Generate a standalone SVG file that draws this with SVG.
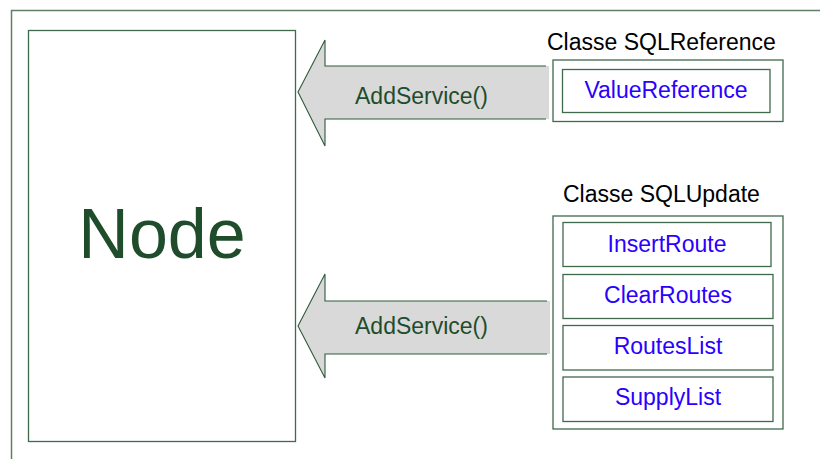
<svg xmlns="http://www.w3.org/2000/svg" width="820" height="459" viewBox="0 0 820 459">
<style>
.frame{fill:none;stroke:#5f7f69;stroke-width:1.5}
.box{fill:#fff;stroke:#3f6a4c;stroke-width:1.3}
.arrowfill{fill:#d9d9d9;stroke:none}
.arrowline{fill:none;stroke:#2f5a3c;stroke-width:1.1;stroke-linejoin:miter}
.lbl{font-family:"Liberation Sans",Arial,sans-serif;font-size:23px;fill:#000}
.m{font-family:"Liberation Sans",Arial,sans-serif;font-size:23px;fill:#2a00ff;text-anchor:middle}
.call{font-family:"Liberation Sans",Arial,sans-serif;font-size:23px;fill:#1f4d2b}
.big{font-family:"Liberation Sans",Arial,sans-serif;font-size:70px;fill:#1f4d2b;text-anchor:middle}
</style>
<path class="frame" d="M11.5,459 V10.5 H820"/>
<g id="node">
<rect class="box" x="28.5" y="30.5" width="267" height="411"/>
<text class="big" x="162" y="258">Node</text>
</g>
<g id="connectors">
<g id="arrow1">
<polygon class="arrowfill" points="298,92 325,40 325,66 549,66 549,119 325,119 325,146"/>
<polyline class="arrowline" points="546,66 325,66 325,40 298,92 325,146 325,119 546,119"/>
<text class="call" x="355" y="104">AddService()</text>
</g>
<g id="arrow2">
<polygon class="arrowfill" points="298,326 325,274 325,301 550,301 550,354 325,354 325,378"/>
<polyline class="arrowline" points="547,301 325,301 325,274 298,326 325,378 325,354 547,354"/>
<text class="call" x="355" y="334">AddService()</text>
</g>
</g>
<g id="sqlreference">
<text class="lbl" x="547" y="50">Classe SQLReference</text>
<rect class="box" x="553" y="60" width="230" height="61.5"/>
<rect class="box" x="562.5" y="69.5" width="207.5" height="43"/>
<text class="m" x="666" y="98">ValueReference</text>
</g>
<g id="sqlupdate">
<text class="lbl" x="563" y="202">Classe SQLUpdate</text>
<rect class="box" x="553" y="216" width="230" height="213"/>
<g id="insertroute"><rect class="box" x="563" y="222.5" width="208" height="44"/><text class="m" x="667" y="252">InsertRoute</text></g>
<g id="clearroutes"><rect class="box" x="563" y="274.5" width="210" height="44"/><text class="m" x="668" y="303">ClearRoutes</text></g>
<g id="routeslist"><rect class="box" x="563" y="325.5" width="210" height="44.5"/><text class="m" x="668" y="354">RoutesList</text></g>
<g id="supplylist"><rect class="box" x="563" y="377" width="210" height="44.5"/><text class="m" x="668" y="405">SupplyList</text></g>
</g>
</svg>
